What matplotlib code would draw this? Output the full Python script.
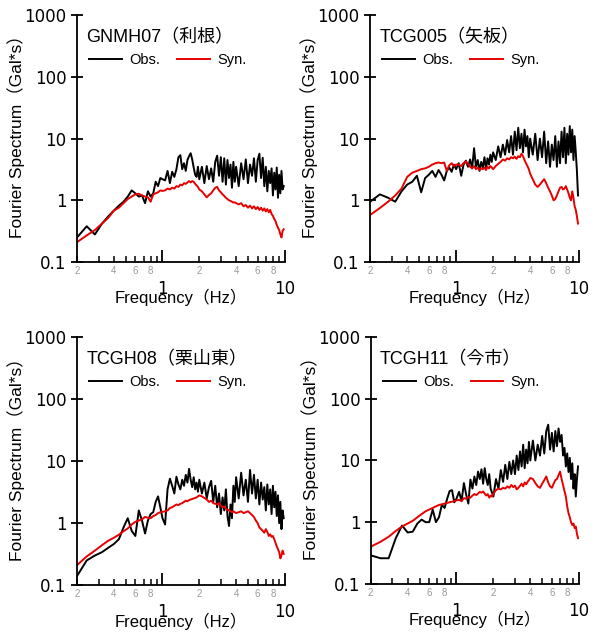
import matplotlib
matplotlib.use('Agg')
import matplotlib.pyplot as plt
from matplotlib.ticker import FixedLocator, FixedFormatter, NullLocator

plt.rcParams['font.family'] = ['Liberation Sans', 'Noto Sans CJK JP']

freq = [0.20, 0.24, 0.28, 0.32, 0.36, 0.40, 0.44, 0.48, 0.52, 0.56, 0.60, 0.64, 0.68, 0.72, 0.76, 0.80, 0.84, 0.88, 0.92, 0.96, 1.00,
        1.05, 1.10, 1.15, 1.20, 1.25, 1.30, 1.35, 1.40, 1.45, 1.50, 1.55, 1.60, 1.65, 1.70, 1.75, 1.80, 1.85, 1.90, 1.95, 2.00,
        2.1, 2.2, 2.3, 2.4, 2.5, 2.6, 2.7, 2.8, 2.9, 3.0, 3.1, 3.2, 3.3, 3.4, 3.5, 3.6, 3.7, 3.8, 3.9, 4.0,
        4.2, 4.4, 4.6, 4.8, 5.0, 5.2, 5.4, 5.6, 5.8, 6.0, 6.2, 6.4, 6.6, 6.8, 7.0, 7.2, 7.4, 7.6, 7.8, 8.0,
        8.2, 8.4, 8.6, 8.8, 9.0, 9.2, 9.4, 9.6, 9.8]

# GNMH07
obs_gnmh07 = [0.25, 0.38, 0.28, 0.42, 0.55, 0.68, 0.82, 0.95, 1.15, 1.45, 1.30, 1.15, 1.20, 0.90, 1.40, 1.15, 1.30, 2.0, 1.7, 2.3, 2.2,
              2.1, 3.0, 1.9, 2.9, 2.4, 3.2, 5.0, 5.4, 3.2, 4.0, 3.0, 4.5, 5.2, 5.8, 4.6, 3.4, 2.6, 2.4, 3.5, 2.2,
              3.5, 1.9, 3.6, 2.2, 3.3, 2.0, 4.2, 5.3, 2.5, 5.0, 2.0, 4.8, 1.8, 4.5, 2.3, 3.8, 1.6, 4.2, 2.0, 3.5,
              1.7, 4.0, 2.2, 4.6, 1.9, 3.8, 2.5, 4.8, 2.0, 4.5, 5.7, 2.3, 4.9, 1.7, 3.5, 1.4, 3.0, 1.9, 3.3, 1.2,
              2.8, 1.5, 3.4, 1.1, 2.6, 1.3, 3.0, 1.5, 1.7]
syn_gnmh07 = [0.21, 0.27, 0.33, 0.42, 0.52, 0.68, 0.76, 0.90, 1.05, 1.15, 1.25, 1.28, 1.20, 1.15, 1.12, 0.95, 1.25, 1.30, 1.35, 1.45, 1.42,
              1.45, 1.55, 1.50, 1.60, 1.55, 1.70, 1.65, 1.80, 1.75, 1.90, 1.85, 1.95, 2.05, 1.95, 2.05, 2.0, 1.85, 1.75, 1.65, 1.5,
              1.4, 1.25, 1.12, 1.22, 1.30, 1.45, 1.60, 1.65, 1.45, 1.35, 1.25, 1.18, 1.10, 1.05, 1.0, 0.98, 0.95, 0.92, 0.93, 0.90,
              0.86, 0.90, 0.80, 0.84, 0.76, 0.82, 0.74, 0.80, 0.72, 0.78, 0.70, 0.76, 0.68, 0.74, 0.66, 0.72, 0.64, 0.70, 0.60, 0.56,
              0.50, 0.46, 0.40, 0.36, 0.33, 0.28, 0.25, 0.32, 0.34]

# TCG005
obs_tcg005 = [0.95, 1.25, 1.1, 0.95, 1.4, 1.8, 2.0, 2.5, 1.35, 2.3, 2.6, 3.0, 2.4, 3.1, 2.6, 2.1, 3.0, 3.4, 2.9, 3.8, 3.2,
              4.0, 2.5, 3.8, 4.4, 3.5, 4.6, 3.3, 7.0, 3.5, 4.5, 3.0, 4.2, 3.4, 5.0, 3.2, 4.8, 3.8, 5.5, 4.2, 6.0,
              4.5, 7.5, 5.0, 8.0, 5.5, 9.5, 6.0, 11.0, 5.5, 13.0, 6.5, 15.0, 7.0, 12.0, 6.0, 14.0, 7.5, 11.0, 5.0, 10.0,
              5.5, 12.0, 4.5, 10.0, 5.0, 13.0, 4.0, 9.0, 3.5, 8.0, 4.5, 11.0, 3.5, 9.0, 4.0, 13.0, 5.0, 15.0, 4.0, 12.0,
              5.5, 16.0, 6.0, 14.0, 4.5, 11.0, 6.0, 3.0, 1.2]
syn_tcg005 = [0.58, 0.75, 0.95, 1.2, 1.55, 2.4, 2.8, 3.0, 3.2, 3.3, 3.5, 3.8, 4.0, 4.1, 4.0, 4.1, 3.0, 3.7, 4.0, 3.6, 3.8,
              3.8, 3.6, 4.0, 4.3, 3.9, 3.5, 3.3, 3.6, 3.2, 3.4, 3.1, 3.3, 3.2, 3.4, 3.1, 3.5, 3.3, 3.6, 3.4, 3.2,
              3.6, 3.9, 4.2, 4.6, 4.4, 4.8, 4.6, 5.0, 4.8, 5.1, 4.7, 5.2, 5.0, 5.7, 5.2, 4.5, 4.0, 3.6, 3.2, 2.7,
              2.2, 1.8, 1.65, 1.8, 2.0, 2.2, 1.9, 1.6, 1.4, 1.2, 1.0, 1.05, 1.2, 1.4, 1.6, 1.65, 1.5, 1.55, 1.7, 1.5,
              1.3, 1.1, 1.0, 1.4, 1.1, 0.8, 0.7, 0.55, 0.42]

# TCGH08
obs_tcgh08 = [0.14, 0.25, 0.30, 0.34, 0.40, 0.46, 0.55, 0.85, 1.2, 0.75, 0.62, 1.6, 1.1, 0.68, 1.1, 1.4, 1.5, 2.2, 2.7, 1.8, 1.2,
              0.95, 3.5, 5.2, 4.0, 3.0, 5.6, 4.2, 3.5, 5.0, 4.0, 6.0, 4.5, 7.5, 5.0, 3.8, 5.5, 3.5, 4.5, 3.2, 5.0,
              3.0, 4.5, 2.5, 3.8, 4.8, 2.2, 4.0, 1.8, 3.0, 1.4, 2.6, 1.6, 3.5, 1.3, 0.9, 2.0, 1.2, 4.0, 2.2, 5.5,
              2.5, 6.5, 2.8, 5.0, 2.2, 7.2, 3.0, 6.0, 2.5, 5.0, 2.0, 4.5, 2.4, 3.8, 1.6, 4.2, 2.0, 3.5, 1.4, 4.0,
              1.8, 3.2, 1.3, 2.8, 1.0, 2.2, 0.8, 1.6, 1.2]
syn_tcgh08 = [0.21, 0.29, 0.36, 0.44, 0.52, 0.58, 0.65, 0.74, 0.82, 0.95, 1.05, 1.10, 1.15, 1.26, 1.22, 1.20, 1.30, 1.35, 1.45, 1.50, 1.52,
              1.55, 1.60, 1.75, 1.80, 1.90, 2.0, 1.95, 2.05, 2.1, 2.2, 2.3, 2.25, 2.35, 2.4, 2.45, 2.5, 2.55, 2.6, 2.7, 2.8,
              2.7, 2.55, 2.4, 2.2, 2.3, 2.1, 2.05, 2.0, 2.1, 1.9, 1.8, 1.85, 1.7, 1.65, 1.6, 1.55, 1.5, 1.55, 1.5, 1.45,
              1.5, 1.55, 1.45, 1.5, 1.55, 1.45, 1.35, 1.25, 1.1, 1.0, 0.85, 0.80, 0.75, 0.70, 0.80, 0.72, 0.62, 0.66, 0.60, 0.62,
              0.55, 0.48, 0.42, 0.38, 0.34, 0.27, 0.30, 0.36, 0.32]

# TCGH11
obs_tcgh11 = [0.29, 0.26, 0.26, 0.55, 0.88, 0.68, 0.70, 0.95, 1.1, 1.0, 1.0, 1.6, 1.0, 1.2, 1.9, 1.7, 2.4, 3.2, 3.3, 2.1, 2.4,
              3.1, 2.2, 4.3, 2.8, 2.0, 4.9, 3.5, 5.5, 4.0, 6.6, 5.0, 7.2, 4.2, 7.5, 5.0, 4.0, 6.0, 3.5, 3.0, 2.6,
              5.0, 3.5, 7.0, 4.5, 8.5, 5.0, 9.5, 6.0, 10.0, 6.0, 12.0, 7.0, 14.0, 8.0, 18.0, 7.5, 15.0, 9.0, 20.0, 10.0,
              21.0, 10.0, 18.0, 12.0, 25.0, 13.0, 30.0, 38.0, 15.0, 28.0, 14.0, 30.0, 17.0, 33.0, 20.0, 26.0, 12.0, 16.0, 8.0, 13.0,
              6.5, 11.0, 5.0, 9.0, 3.5, 6.0, 2.6, 5.0, 8.0]
syn_tcgh11 = [0.40, 0.48, 0.58, 0.72, 0.85, 0.95, 1.05, 1.2, 1.35, 1.5, 1.6, 1.7, 1.8, 1.9, 1.95, 2.0, 2.05, 2.1, 2.15, 2.2, 2.25,
              2.3, 2.2, 2.45, 2.4, 2.55, 2.5, 2.7, 2.85, 2.75, 2.9, 3.1, 3.0, 3.15, 2.9, 2.7, 2.85, 2.5, 2.7, 2.6, 2.9,
              3.3, 3.5, 3.4, 3.6, 3.5, 3.8, 3.6, 4.0, 3.7, 3.9, 3.4, 3.6, 3.9, 4.2, 3.8, 4.4, 4.1, 4.5, 4.8, 5.2,
              5.0, 4.3, 3.8, 3.6, 4.2, 4.8, 5.5, 4.4, 3.8, 3.6, 4.2, 4.8, 5.0, 5.8, 6.6, 5.0, 4.0, 3.2, 2.6, 1.8,
              1.4, 1.2, 1.0, 0.9, 0.95, 0.8, 0.85, 0.65, 0.55]

stations = ['GNMH07（利根）', 'TCG005（矢板）', 'TCGH08（栗山東）', 'TCGH11（今市）']
obs_all = [obs_gnmh07, obs_tcg005, obs_tcgh08, obs_tcgh11]
syn_all = [syn_gnmh07, syn_tcg005, syn_tcgh08, syn_tcgh11]

y_ticks = [0.1, 1, 10, 100, 1000]
y_labels = ['0.1', '1', '10', '100', '1000']
x_major = [1, 10]
x_major_labels = ['1', '10']
x_minor = [0.2, 0.3, 0.4, 0.5, 0.6, 0.7, 0.8, 0.9, 2, 3, 4, 5, 6, 7, 8, 9]
x_minor_labels = ['2', '', '4', '', '6', '', '8', '', '2', '', '4', '', '6', '', '8', '']

boxes = [[0.129, 0.588, 0.348, 0.388],
         [0.620, 0.588, 0.350, 0.388],
         [0.129, 0.080, 0.348, 0.390],
         [0.621, 0.082, 0.349, 0.388]]

fig = plt.figure(figsize=(5.97, 6.36), dpi=100)

for k in range(4):
    ax = fig.add_axes(boxes[k])
    ax.plot(freq, obs_all[k], color='black', lw=1.4, label='Obs.')
    ax.plot(freq, syn_all[k], color='#e60000', lw=1.4, label='Syn.')
    ax.set_xscale('log')
    ax.set_yscale('log')
    ax.set_xlim(0.2, 10)
    ax.set_ylim(0.1, 1000)

    ax.spines['top'].set_visible(False)
    ax.spines['right'].set_visible(False)
    ax.spines['left'].set_linewidth(1.3)
    ax.spines['bottom'].set_linewidth(1.3)

    ax.yaxis.set_major_locator(FixedLocator(y_ticks))
    ax.yaxis.set_major_formatter(FixedFormatter(y_labels))
    ax.yaxis.set_minor_locator(NullLocator())
    ax.tick_params(axis='y', direction='inout', length=9, width=1.3, labelsize=12, pad=3)

    ax.xaxis.set_major_locator(FixedLocator(x_major))
    ax.xaxis.set_major_formatter(FixedFormatter(x_major_labels))
    ax.xaxis.set_minor_locator(FixedLocator(x_minor))
    ax.xaxis.set_minor_formatter(FixedFormatter(x_minor_labels))
    ax.tick_params(axis='x', which='major', direction='in', length=9, width=1.3, labelsize=12, pad=13)
    ax.tick_params(axis='x', which='minor', direction='in', length=4, width=1.1, labelsize=7,
                   labelcolor='#9a9a9a', pad=3)
    for t in ax.get_yticklabels() + ax.get_xticklabels():
        t.set_family('DejaVu Sans')

    ax.set_xlabel('Frequency（Hz）', fontsize=12)
    ax.xaxis.set_label_coords(0.5, -0.11)
    ax.set_ylabel('Fourier Spectrum（Gal*s）', fontsize=12.5)
    ax.yaxis.set_label_coords(-0.25, 0.525)

    # station name above the legend row
    ax.text(0.045, 0.91, stations[k], transform=ax.transAxes, fontsize=13, va='center', ha='left')
    ax.legend(loc='center left', bbox_to_anchor=(0.058, 0.818), ncol=2, frameon=False,
              fontsize=10.5, handlelength=2.25, handletextpad=0.5, columnspacing=1.15,
              borderpad=0, borderaxespad=0)

fig.savefig('out.png', dpi=100)
